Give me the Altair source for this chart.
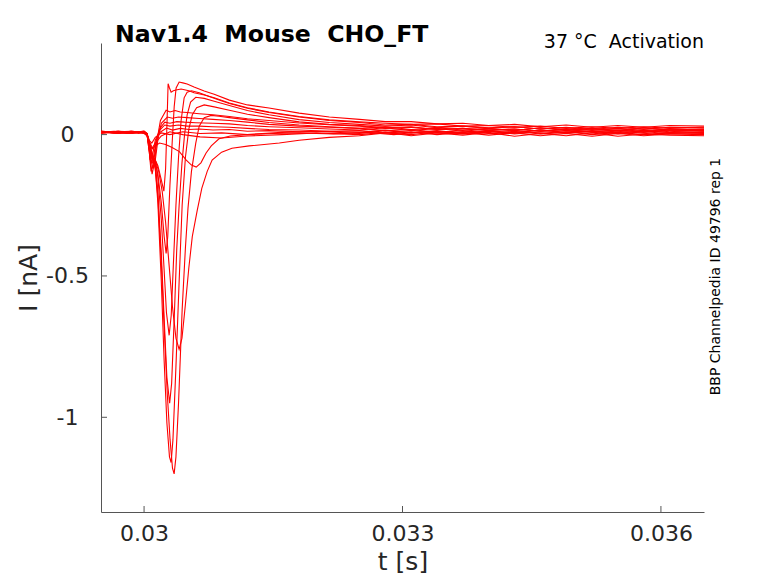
import altair as alt
import pandas as pd

# ---- data: (time in ms after 0.03 s, current in nA) ----
S1 = [(-0.512,0.008),(-0.35,0.012),(-0.2,0.004),(-0.06,0.010),(0.0,0.006),(0.035,0.0),(0.06,-0.02),(0.09,-0.03),(0.13,-0.01),(0.2,0.006),(0.3,0.0),(0.45,0.01),(0.65,0.004),(0.9,0.006),(1.2,0.0),(1.6,0.008),(2.0,0.012),
      (2.5,0.004),(2.8,0.014),(3.1,0.006),(3.4,0.012),(3.7,0.002),(4.0,0.012),(4.3,0.006),(4.6,0.016),(4.9,0.006),(5.2,0.012),(5.5,0.004),(5.8,0.014),(6.1,0.008),(6.5,0.010)]
S2 = [(-0.512,0.012),(-0.35,0.006),(-0.2,0.01),(-0.06,0.004),(0.0,0.01),(0.035,0.004),(0.06,-0.03),(0.09,-0.05),(0.13,-0.03),(0.2,-0.005),(0.3,0.01),(0.45,0.0),(0.65,-0.008),(0.9,-0.012),(1.2,-0.005),(1.6,0.0),(2.0,0.006),
      (2.5,0.0),(2.8,0.008),(3.1,-0.004),(3.4,0.006),(3.7,-0.002),(4.0,0.008),(4.3,-0.006),(4.6,0.004),(4.9,-0.004),(5.2,0.006),(5.5,-0.006),(5.8,0.002),(6.1,-0.002),(6.5,-0.004)]
G = [(-0.512,0.008),(-0.3,0.012),(-0.15,0.006),(0.0,0.01),(0.035,0.002),(0.07,-0.03),(0.1,-0.05),(0.13,-0.04),(0.18,-0.03),(0.25,-0.035),(0.32,-0.045),(0.41,-0.06),(0.49,-0.09),(0.55,-0.108),(0.605,-0.115),(0.66,-0.1),(0.72,-0.065),(0.78,-0.04),(0.87,-0.015),(1.0,-0.005),(1.2,0.0),(1.5,0.004),(1.8,0.006),(2.2,0.002),
     (2.6,0.008),(2.9,0.0),(3.2,0.01),(3.5,0.004),(3.8,0.012),(4.1,0.002),(4.4,0.01),(4.7,0.004),(5.0,0.012),(5.3,0.006),(5.6,0.01),(5.9,0.002),(6.2,0.01),(6.5,0.006)]
D = [(-0.512,0.012),(-0.3,0.008),(-0.15,0.01),(0.0,0.004),(0.035,-0.004),(0.07,-0.05),(0.1,-0.08),(0.13,-0.09),(0.17,-0.13),(0.21,-0.2),(0.25,-0.31),(0.29,-0.46),(0.33,-0.61),(0.37,-0.72),(0.407,-0.76),(0.44,-0.72),(0.48,-0.6),(0.52,-0.47),(0.56,-0.36),(0.616,-0.27),(0.67,-0.19),(0.733,-0.13),(0.79,-0.09),(0.9,-0.062),(1.02,-0.048),(1.22,-0.04),(1.57,-0.03),(1.8,-0.02),(2.15,-0.01),
     (2.5,-0.004),(2.8,0.006),(3.1,0.0),(3.4,0.01),(3.7,0.004),(4.0,0.014),(4.3,0.006),(4.6,0.016),(4.9,0.008),(5.2,0.014),(5.5,0.01),(5.8,0.018),(6.1,0.01),(6.5,0.016)]
A = [(-0.512,0.006),(-0.3,0.01),(-0.15,0.012),(0.0,0.008),(0.035,0.002),(0.07,-0.05),(0.1,-0.08),(0.13,-0.12),(0.16,-0.22),(0.2,-0.45),(0.233,-0.68),(0.27,-0.92),(0.302,-1.08),(0.33,-1.18),(0.349,-1.2),(0.37,-1.14),(0.4,-0.95),(0.442,-0.62),(0.48,-0.4),(0.51,-0.26),(0.55,-0.13),(0.6,-0.03),(0.64,0.03),(0.698,0.06),(0.78,0.068),(0.87,0.065),(0.99,0.06),(1.2,0.052),(1.45,0.043),(1.8,0.034),(2.15,0.028),
     (2.5,0.022),(2.8,0.028),(3.1,0.018),(3.4,0.024),(3.7,0.016),(4.0,0.022),(4.3,0.014),(4.6,0.024),(4.9,0.016),(5.2,0.022),(5.5,0.014),(5.8,0.024),(6.1,0.016),(6.5,0.02)]
B = [(-0.512,0.010),(-0.3,0.004),(-0.15,0.01),(0.0,0.006),(0.035,0.0),(0.07,-0.05),(0.1,-0.08),(0.13,-0.12),(0.16,-0.24),(0.2,-0.52),(0.233,-0.8),(0.265,-1.02),(0.295,-1.14),(0.314,-1.16),(0.335,-1.08),(0.37,-0.82),(0.407,-0.52),(0.442,-0.25),(0.48,-0.08),(0.52,0.02),(0.56,0.07),(0.61,0.095),(0.698,0.105),(0.814,0.098),(0.99,0.086),(1.2,0.072),(1.45,0.06),(1.8,0.045),(2.15,0.036),
     (2.5,0.032),(2.8,0.024),(3.1,0.028),(3.4,0.018),(3.7,0.022),(4.0,0.014),(4.3,0.02),(4.6,0.012),(4.9,0.018),(5.2,0.01),(5.5,0.016),(5.8,0.008),(6.1,0.016),(6.5,0.012)]
C = [(-0.512,0.008),(-0.3,0.01),(-0.15,0.006),(0.0,0.012),(0.035,0.004),(0.07,-0.04),(0.1,-0.07),(0.13,-0.1),(0.16,-0.2),(0.2,-0.42),(0.233,-0.65),(0.265,-0.86),(0.297,-0.95),(0.32,-0.88),(0.35,-0.65),(0.38,-0.4),(0.407,-0.25),(0.44,-0.1),(0.47,0.0),(0.5,0.07),(0.54,0.115),(0.6,0.132),(0.698,0.128),(0.814,0.118),(0.99,0.103),(1.2,0.085),(1.45,0.07),(1.8,0.053),(2.15,0.043),
     (2.5,0.036),(2.8,0.03),(3.1,0.034),(3.4,0.024),(3.7,0.03),(4.0,0.022),(4.3,0.028),(4.6,0.02),(4.9,0.026),(5.2,0.018),(5.5,0.026),(5.8,0.02),(6.1,0.026),(6.5,0.024)]
E = [(-0.512,0.012),(-0.3,0.008),(-0.15,0.004),(0.0,0.010),(0.035,0.0),(0.07,-0.05),(0.1,-0.08),(0.13,-0.09),(0.16,-0.15),(0.2,-0.3),(0.233,-0.48),(0.26,-0.63),(0.291,-0.71),(0.315,-0.64),(0.34,-0.46),(0.37,-0.25),(0.4,-0.08),(0.43,0.05),(0.465,0.13),(0.5,0.15),(0.55,0.155),(0.64,0.148),(0.756,0.135),(0.87,0.122),(0.99,0.11),(1.2,0.093),(1.45,0.078),(1.8,0.062),(2.15,0.05),
     (2.5,0.043),(2.8,0.034),(3.1,0.036),(3.4,0.028),(3.7,0.03),(4.0,0.024),(4.3,0.028),(4.6,0.02),(4.9,0.024),(5.2,0.016),(5.5,0.022),(5.8,0.014),(6.1,0.02),(6.5,0.018)]
F = [(-0.512,0.006),(-0.3,0.012),(-0.15,0.008),(0.0,0.012),(0.035,0.002),(0.07,-0.05),(0.1,-0.09),(0.13,-0.1),(0.16,-0.14),(0.2,-0.24),(0.233,-0.36),(0.256,-0.42),(0.275,-0.36),(0.3,-0.18),(0.326,-0.03),(0.35,0.1),(0.372,0.165),(0.407,0.186),(0.45,0.183),(0.5,0.179),(0.58,0.168),(0.698,0.154),(0.814,0.143),(0.99,0.122),(1.2,0.105),(1.45,0.094),(1.8,0.076),(2.15,0.062),
     (2.5,0.054),(2.8,0.046),(3.1,0.046),(3.4,0.038),(3.7,0.04),(4.0,0.032),(4.3,0.036),(4.6,0.028),(4.9,0.034),(5.2,0.026),(5.5,0.032),(5.8,0.026),(6.1,0.032),(6.5,0.03)]
H = [(-0.512,0.010),(-0.3,0.006),(-0.15,0.012),(0.0,0.008),(0.035,0.0),(0.07,-0.06),(0.1,-0.1),(0.13,-0.09),(0.16,-0.11),(0.2,-0.16),(0.23,-0.2),(0.25,-0.12),(0.267,0.05),(0.279,0.18),(0.295,0.165),(0.314,0.15),(0.34,0.155),(0.37,0.158),(0.43,0.161),(0.52,0.155),(0.58,0.148),(0.7,0.14),(0.814,0.13),(0.99,0.112),(1.2,0.095),(1.45,0.08),(1.8,0.064),(2.15,0.052),
     (2.5,0.045),(2.8,0.04),(3.1,0.036),(3.4,0.038),(3.7,0.03),(4.0,0.032),(4.3,0.026),(4.6,0.03),(4.9,0.022),(5.2,0.028),(5.5,0.022),(5.8,0.028),(6.1,0.022),(6.5,0.026)]
V1 = [(-0.512,0.01),(-0.3,0.006),(-0.15,0.012),(0.0,0.008),(0.035,0.0),(0.06,-0.06),(0.093,-0.14),(0.12,-0.1),(0.15,-0.02),(0.19,0.05),(0.256,0.086),(0.3,0.08),(0.36,0.085),(0.42,0.08),(0.5,0.078),(0.64,0.074),(0.8,0.07),(0.99,0.064),(1.2,0.056),(1.45,0.05),(1.8,0.041),(2.15,0.035),
      (2.5,0.03),(2.8,0.022),(3.1,0.026),(3.4,0.018),(3.7,0.022),(4.0,0.016),(4.3,0.02),(4.6,0.012),(4.9,0.018),(5.2,0.01),(5.5,0.016),(5.8,0.01),(6.1,0.016),(6.5,0.014)]
V2 = [(-0.512,0.004),(-0.3,0.01),(-0.15,0.008),(0.0,0.012),(0.035,0.002),(0.06,-0.05),(0.1,-0.12),(0.13,-0.09),(0.16,-0.02),(0.2,0.04),(0.27,0.062),(0.33,0.058),(0.4,0.062),(0.5,0.06),(0.64,0.057),(0.8,0.054),(0.99,0.05),(1.2,0.044),(1.45,0.036),(1.8,0.03),(2.15,0.026),
      (2.5,0.022),(2.8,0.014),(3.1,0.018),(3.4,0.008),(3.7,0.014),(4.0,0.004),(4.3,0.012),(4.6,0.002),(4.9,0.01),(5.2,0.0),(5.5,0.008),(5.8,0.0),(6.1,0.006),(6.5,0.004)]
V3 = [(-0.512,0.012),(-0.3,0.008),(-0.15,0.004),(0.0,0.01),(0.035,0.0),(0.06,-0.06),(0.081,-0.13),(0.11,-0.1),(0.14,-0.03),(0.18,0.02),(0.24,0.044),(0.3,0.04),(0.38,0.046),(0.47,0.044),(0.6,0.042),(0.8,0.04),(0.99,0.038),(1.2,0.032),(1.45,0.028),(1.8,0.024),(2.15,0.02),
      (2.5,0.016),(2.8,0.024),(3.1,0.014),(3.4,0.022),(3.7,0.012),(4.0,0.02),(4.3,0.014),(4.6,0.024),(4.9,0.014),(5.2,0.022),(5.5,0.014),(5.8,0.024),(6.1,0.016),(6.5,0.02)]
V4 = [(-0.512,0.008),(-0.3,0.012),(-0.15,0.01),(0.0,0.006),(0.035,-0.002),(0.06,-0.05),(0.081,-0.1),(0.11,-0.08),(0.14,-0.02),(0.18,0.015),(0.24,0.034),(0.3,0.03),(0.4,0.034),(0.5,0.03),(0.64,0.03),(0.8,0.028),(0.99,0.026),(1.2,0.022),(1.45,0.018),(1.8,0.016),(2.15,0.012),
      (2.5,0.014),(2.8,0.006),(3.1,0.01),(3.4,0.0),(3.7,0.008),(4.0,-0.002),(4.3,0.006),(4.6,-0.004),(4.9,0.004),(5.2,-0.006),(5.5,0.004),(5.8,-0.004),(6.1,0.002),(6.5,0.0)]
V5 = [(-0.512,0.01),(-0.3,0.004),(-0.15,0.008),(0.0,0.012),(0.035,0.004),(0.058,-0.04),(0.07,-0.09),(0.1,-0.07),(0.13,-0.02),(0.17,0.005),(0.26,0.023),(0.33,0.016),(0.42,0.022),(0.52,0.018),(0.64,0.02),(0.8,0.016),(0.99,0.018),(1.2,0.012),(1.45,0.014),(1.8,0.01),(2.15,0.012),
      (2.5,0.008),(2.8,0.016),(3.1,0.006),(3.4,0.014),(3.7,0.004),(4.0,0.012),(4.3,0.002),(4.6,0.01),(4.9,0.004),(5.2,0.012),(5.5,0.002),(5.8,0.01),(6.1,0.004),(6.5,0.008)]

TRACES = {"S1": S1, "S2": S2, "G": G, "D": D, "A": A, "B": B, "C": C, "E": E,
          "F": F, "H": H, "V1": V1, "V2": V2, "V3": V3, "V4": V4, "V5": V5}

X_TICKS = [0.03, 0.033, 0.036]
Y_TICKS = [-1, -0.5, 0]
X_DOMAIN = [0.0295, 0.0365]
Y_DOMAIN = [-1.335, 0.324]

TITLE = "Nav1.4\u00a0 Mouse\u00a0 CHO_FT"
INFO = "37 \u00b0C\u00a0 Activation"
SIDE = "BBP Channelpedia ID 49796 rep 1"

rows = []
for name, pts in TRACES.items():
    for i, (ms, val) in enumerate(pts):
        rows.append({"trace": name, "order": i, "t": 0.03 + ms / 1000.0, "I": val})
df = pd.DataFrame(rows)

W, Hh = 603, 469
AX = "#555555"
LAB = "#262626"
FONT = "DejaVu Sans"

xscale = alt.Scale(domain=X_DOMAIN, nice=False, zero=False)
yscale = alt.Scale(domain=Y_DOMAIN, nice=False, zero=False)

xaxis = alt.Axis(values=X_TICKS, labelExpr="'' + datum.value", title="t [s]",
                 grid=False, ticks=False, tickSize=0, domainColor=AX, domainWidth=1,
                 labelFont=FONT, labelFontSize=22, labelColor=LAB, labelPadding=11,
                 titleFont=FONT, titleFontSize=25, titleFontWeight="normal", titleColor=LAB,
                 titleBaseline="alphabetic", titleX=W / 2, titleY=57, titleAlign="center")
yaxis = alt.Axis(values=Y_TICKS, labelExpr="'' + datum.value", title="I [nA]",
                 grid=False, ticks=False, tickSize=0, domainColor=AX, domainWidth=1,
                 labelFont=FONT, labelFontSize=22, labelColor=LAB, labelPadding=34,
                 labelAlign="center", labelBaseline="middle",
                 titleFont=FONT, titleFontSize=25, titleFontWeight="normal", titleColor=LAB,
                 titleAngle=270, titleBaseline="alphabetic", titleAlign="center",
                 titleX=-65, titleY=Hh / 2)

lines = alt.Chart(df).mark_line(color="#ff0000", strokeWidth=1.1, clip=True).encode(
    x=alt.X("t:Q", scale=xscale, axis=xaxis),
    y=alt.Y("I:Q", scale=yscale, axis=yaxis),
    detail="trace:N",
    order="order:Q",
)

xt = alt.Chart(pd.DataFrame({"t": X_TICKS})).mark_rule(color=AX, strokeWidth=1).encode(
    x=alt.X("t:Q", scale=xscale, axis=xaxis),
    y=alt.value(Hh), y2=alt.value(Hh - 6),
)
yt = alt.Chart(pd.DataFrame({"I": Y_TICKS})).mark_rule(color=AX, strokeWidth=1).encode(
    y=alt.Y("I:Q", scale=yscale, axis=yaxis),
    x=alt.value(0), x2=alt.value(6),
)

title = alt.Chart(pd.DataFrame({"txt": [TITLE]})).mark_text(
    align="left", baseline="alphabetic", font=FONT, fontSize=23.6, fontWeight="bold", color="black"
).encode(x=alt.value(14), y=alt.value(-1), text="txt:N")

info = alt.Chart(pd.DataFrame({"txt": [INFO]})).mark_text(
    align="right", baseline="alphabetic", font=FONT, fontSize=19, color="black"
).encode(x=alt.value(W), y=alt.value(5), text="txt:N")

side = alt.Chart(pd.DataFrame({"txt": [SIDE]})).mark_text(
    align="center", baseline="alphabetic", font=FONT, fontSize=14, color="black", angle=270
).encode(x=alt.value(619), y=alt.value(233.5), text="txt:N")

chart = alt.layer(lines, xt, yt, title, info, side).properties(
    width=W, height=Hh,
    autosize=alt.AutoSizeParams(type="none"),
    padding={"left": 93, "top": 35, "right": 58, "bottom": 63},
).configure_view(stroke=None)

chart.save("out.html", embed_options={"renderer": "svg", "actions": False})
